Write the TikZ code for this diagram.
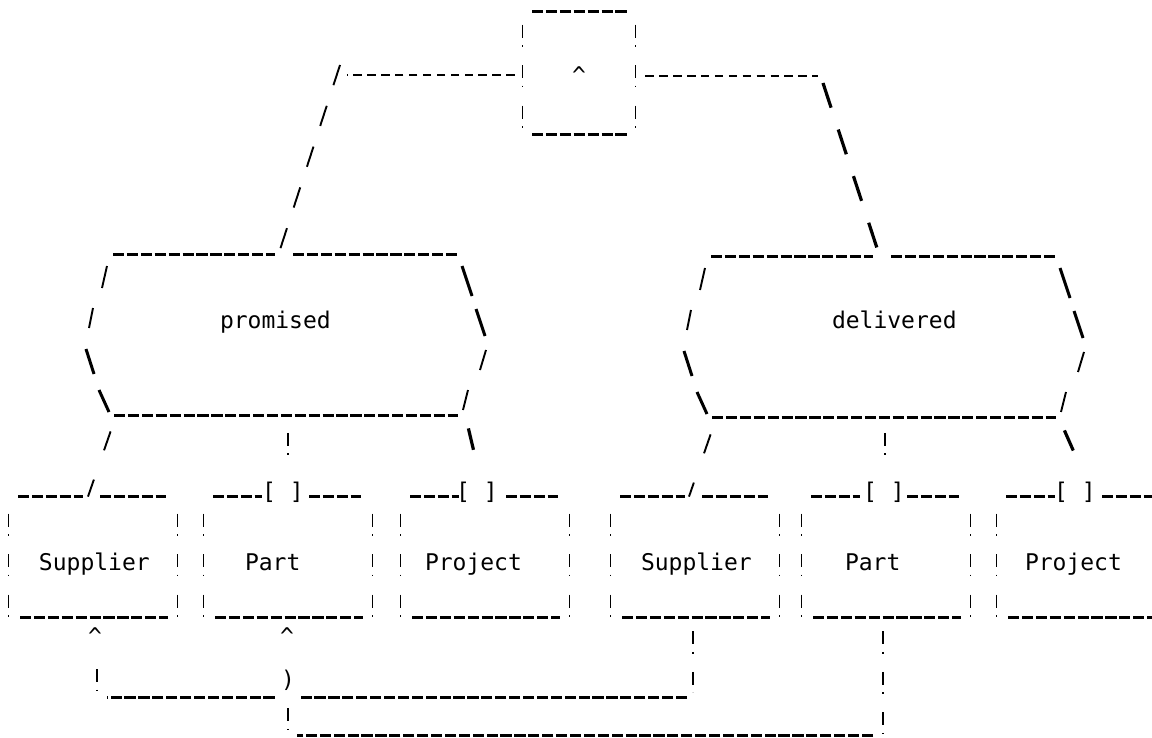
\documentclass[tikz,border=0pt]{standalone}
\usepackage{fontspec}
\usetikzlibrary{calc}
\newfontfamily\dotfont{DejaVu Sans Mono}

% Dot-matrix printout look: every border and connector is a run of
% printed characters ( _ - ! / \ ), imitated with dash patterns.
\tikzset{
  dotmatrix/.style={font=\dotfont\fontsize{11.5}{13}\selectfont},
  uline/.style={line width=1.35pt, dash pattern=on 5.6pt off 1.35pt},
  hyph/.style={line width=1pt, dash pattern=on 4.2pt off 2.75pt},
  bang/.style={line width=0.85pt, dash pattern=on 6.5pt off 3.75pt on 0.8pt off 9.2pt},
  bangone/.style={line width=0.95pt, dash pattern=on 6.5pt off 3.75pt on 0.8pt off 30pt},
  slashes/.style={line width=0.95pt, dash pattern=on 10.6pt off 10.85pt},
  bslashes/.style={line width=1.6pt, dash pattern=on 13pt off 11.5pt},
  slashpair/.style={line width=0.95pt, dash pattern=on 10pt off 15.5pt},
  bslashone/.style={line width=1.6pt, dash pattern=on 11pt off 40pt},
  fwd/.style={line width=0.95pt},
  bwd/.style={line width=1.5pt},
  entity/.style={dotmatrix, rectangle, inner sep=0pt, text width=84pt,
    align=left, text height=36.5pt, text depth=23.5pt},
  relation/.style={dotmatrix, rectangle, inner sep=0pt, text width=200pt, align=left},
  junction/.style={dotmatrix, rectangle, inner sep=0pt, text width=56pt,
    align=center, text height=36pt, text depth=25pt},
  glyph/.style={dotmatrix, inner sep=0pt, anchor=base},
}

% entity box: top rule with a gap for the incoming link, bottom rule, ! sides
\newcommand\entityframe[3]{%
  \draw[uline] ($(#1.north)+(-75,0)$) -- ($(#1.north)+(#2,0)$)
               ($(#1.north)+(#3,0)$) -- ($(#1.north)+(73,0)$)
               ($(#1.south)+(-73,0)$) -- ($(#1.south)+(75,0)$);
  \draw[bang] ($(#1.north west)+(0,17)$) -- ($(#1.south west)+(0,1)$)
              ($(#1.north east)+(0,17)$) -- ($(#1.south east)+(0,1)$);
}

% relationship hexagon built from _ / \ characters
\newcommand\relationframe[1]{%
  \draw[uline] ($(#1.center)+(-173,-80.5)$) -- ($(#1.center)+(-11,-80.5)$)
               ($(#1.center)+(7,-80.5)$) -- ($(#1.center)+(172,-80.5)$)
               ($(#1.center)+(-172,80.5)$) -- ($(#1.center)+(172,80.5)$);
  \draw[fwd] ($(#1.center)+(-179,-69)$) -- ($(#1.center)+(-184,-47)$)
             ($(#1.center)+(-193,-27)$) -- ($(#1.center)+(-197,-7)$)
             ($(#1.center)+(200,15)$) -- ($(#1.center)+(194,35)$)
             ($(#1.center)+(182,55)$) -- ($(#1.center)+(177,75)$);
  \draw[bwd] ($(#1.center)+(-200,14)$) -- ($(#1.center)+(-192,39)$)
             ($(#1.center)+(-187,55)$) -- ($(#1.center)+(-177,77)$)
             ($(#1.center)+(176,-69)$) -- ($(#1.center)+(186,-39)$)
             ($(#1.center)+(190,-26)$) -- ($(#1.center)+(199,1)$);
}

\begin{document}
\begin{tikzpicture}[x=0.5pt, y=-0.5pt, line cap=butt]
\useasboundingbox (0,0) rectangle (1152,738);
\fill[white] (0,0) rectangle (1152,738);
\clip (0,0) rectangle (1152,738);

% ---- nodes ----
\node[junction] (and) at (579,73) {\textasciicircum};
\node[relation, text height=36.75pt, text depth=43.75pt] (prom) at (286,335)
  {\hspace*{67pt}promised};
\node[relation, text height=35.75pt, text depth=44.75pt] (deliv) at (884,337)
  {\hspace*{74pt}delivered};

\node[entity] (sup1)  at (93,557)   {\hspace*{15pt}Supplier};
\node[entity] (part1) at (288,557)  {\hspace*{20.5pt}Part};
\node[entity] (proj1) at (485,557)  {\hspace*{12pt}Project};
\node[entity] (sup2)  at (695,557)  {\hspace*{15pt}Supplier};
\node[entity] (part2) at (886,557)  {\hspace*{21.5pt}Part};
\node[entity] (proj2) at (1081,557) {\hspace*{14pt}Project};

% optional-membership brackets on the box tops
\node[glyph] (o1) at ($(part1.north)+(-5,3)$) {[ ]};
\node[glyph] (o2) at ($(proj1.north)+(-8,3)$) {[ ]};
\node[glyph] (o3) at ($(part2.north)+(-2,3)$) {[ ]};
\node[glyph] (o4) at ($(proj2.north)+(-6,3)$) {[ ]};

% arrow heads and the line hop below the boxes
\node[glyph] (t1)  at ($(sup1.south)+(2,27)$)   {\textasciicircum};
\node[glyph] (t2)  at ($(part1.south)+(-1,27)$) {\textasciicircum};
\node[glyph] (hop) at ($(part1.south)+(0,70)$)  {)};

% ---- frames ----
\draw[uline] ($(and.north)+(-47,0)$) -- ($(and.north)+(48,0)$)
             ($(and.south)+(-47,0)$) -- ($(and.south)+(48,0)$);
\draw[bang] ($(and.north west)+(0,13)$) -- ($(and.south west)+(0,-6)$)
            ($(and.north east)+(0,13)$) -- ($(and.south east)+(0,-6)$);

\relationframe{prom}
\relationframe{deliv}

\entityframe{sup1}{-10}{7}
\entityframe{part1}{-26}{21}
\entityframe{proj1}{-26}{21}
\entityframe{sup2}{-10}{7}
\entityframe{part2}{-26}{21}
\entityframe{proj2}{-26}{21}

% ---- junction to relationships ----
\coordinate (kneeL) at (343,75);
\coordinate (kneeR) at (820,76);
\draw[hyph] ($(and.west)+(-8,2)$) -- ($(kneeL)+(4,0)$);
\draw[slashes] ($(kneeL)+(-3,-10)$) -- ($(prom.north)+(-5.5,-6)$);
\draw[hyph] ($(and.east)+(10,3)$) -- ($(kneeR)+(-2,0)$);
\draw[bslashes] ($(kneeR)+(3,7)$) -- ($(deliv.north)+(-7,-8)$);

% ---- relationships to entities ----
\draw[slashpair] ($(prom.south west)+(25,15.5)$) -- ($(sup1.north)+(-5,0)$);
\coordinate (pdrop) at ($(prom.south)+(2,17)$);
\draw[bangone] (pdrop) -- (pdrop |- o1.north);
\draw[bslashone] ($(prom.south east)+(-18,12.5)$) -- ($(o2.north)+(4,0)$);

\draw[slashpair] ($(deliv.south west)+(27,16.5)$) -- ($(sup2.north)+(-6,0)$);
\coordinate (ddrop) at ($(deliv.south)+(1,15)$);
\draw[bangone] (ddrop) -- (ddrop |- o3.north);
\draw[bslashone] ($(deliv.south east)+(-20,12.5)$) -- ($(o4.north)+(12,0)$);

% ---- identity links under the boxes ----
\coordinate (jL1) at ($(sup1.south)+(4,80)$);
\coordinate (jR1) at ($(sup2.south)+(-2,80)$);
\coordinate (jL2) at ($(part1.south)+(0,118)$);
\coordinate (jR2) at ($(part2.south)+(-3,118)$);

\draw[bang] ($(sup2.south)+(-2,14)$) -- ($(jR1)+(0,-5)$);
\draw[uline] ($(jR1)+(-6,0)$) -- ($(jR1 -| hop.east)+(6,0)$)
             ($(jR1 -| hop.west)+(-6,0)$) -- ($(jL1)+(10,0)$);
\draw[bangone] ($(jL1)+(0,-28)$) -- ($(jL1)+(0,-6)$);

\draw[bang] ($(part2.south)+(-3,14)$) -- ($(jR2)+(0,-1)$);
\draw[uline] ($(jR2)+(-10,0)$) -- ($(jL2)+(9,0)$);
\draw[bangone] ($(jL2)+(0,-27)$) -- ($(jL2)+(0,-6)$);
\end{tikzpicture}
\end{document}
